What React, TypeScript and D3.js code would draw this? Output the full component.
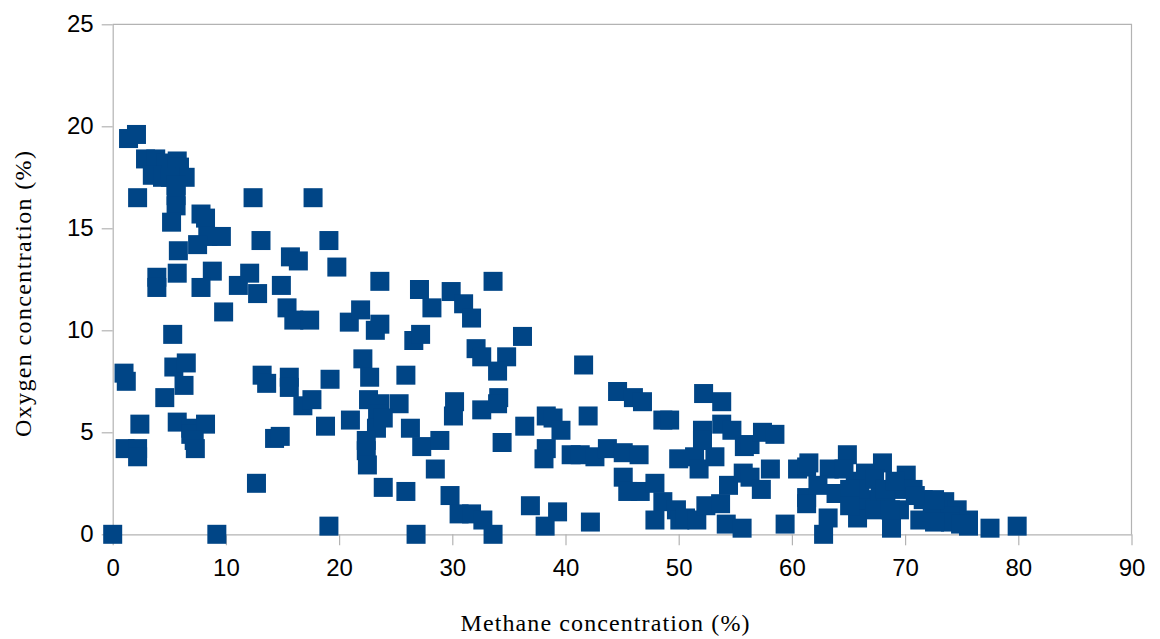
import React, { useRef, useEffect } from "react";
import * as d3 from "d3";

// methane (%) and oxygen (%), same order
const methane = [
  0, 1.0, 1.2, 1.1, 2.2, 2.2, 2.4, 2.2, 1.4, 2.1, 2.9, 3.8, 4.7, 5.7, 5.9, 6.4, 3.5, 4.4, 5.1, 5.6,
  5.6, 5.6, 5.2, 7.8, 8.2, 9.6, 8.4, 7.5, 5.8, 3.9, 3.9, 5.7, 8.8, 7.8, 9.8, 5.3, 5.4, 6.5, 6.3, 4.6,
  5.7, 6.9, 6.9, 8.2, 7.2, 7.3, 9.2, 11.1, 12.1, 12.8, 12.4, 13.1, 13.2, 13.6, 12.7, 14.3, 14.8, 14.9, 15.4, 15.7,
  16.4, 15.6, 15.6, 16.0, 17.4, 16.8, 17.6, 17.7, 19.1, 19.2, 18.8, 19.1, 19.8, 20.9, 21.9, 21.0, 22.1, 22.7, 22.6, 23.6,
  25.3, 23.4, 23.3, 23.9, 22.4, 22.4, 22.5, 23.6, 23.6, 23.2, 23.9, 25.9, 25.9, 26.3, 26.6, 27.2, 27.1, 27.3, 28.9, 28.5,
  28.2, 26.8, 29.9, 31.0, 31.7, 30.2, 30.1, 29.8, 30.6, 31.7, 32.7, 33.6, 33.6, 32.1, 32.6, 34.8, 34.0, 34.1, 34.0, 32.6,
  34.4, 36.2, 36.4, 36.9, 38.3, 38.9, 39.6, 38.3, 38.1, 38.2, 39.3, 40.5, 41.3, 41.6, 42.0, 42.2, 42.6, 43.7, 44.6, 46.0,
  46.8, 45.1, 46.5, 45.1, 45.5, 46.6, 47.9, 48.6, 47.9, 48.6, 49.2, 50.0, 49.8, 50.1, 50.6, 51.4, 51.8, 51.6, 52.4, 53.7,
  53.2, 52.2, 53.8, 52.1, 52.1, 53.8, 54.7, 55.8, 56.3, 57.4, 58.5, 54.2, 55.6, 54.4, 55.7, 56.3, 57.3, 58.1, 59.4, 60.5,
  61.3, 61.3, 61.3, 61.5, 63.3, 64.9, 68.0, 70.1, 63.9, 63.2, 62.8, 65.6, 65.8, 66.9, 67.8, 66.5, 68.8, 70.7, 71.6, 73.5,
  71.3, 73.1, 74.6, 75.6, 75.6, 77.5, 79.9, 69.5, 72.4, 74.0, 69.1, 64.6, 65.8, 62.3, 68.3,
  66.0, 67.3, 68.2, 67.3, 68.7, 69.1, 70.9, 72.6, 74.0, 72.6, 74.9, 65.1, 65.1,
];
const oxygen = [
  0, 7.9, 7.5, 4.2, 4.2, 3.8, 5.4, 16.5, 19.4, 19.6, 18.4, 18.4, 18.2, 18.3, 18.0, 17.5, 17.6, 17.5, 17.5, 17.1,
  16.6, 16.1, 15.3, 15.7, 15.5, 14.6, 14.6, 14.2, 13.9, 12.6, 12.1, 12.8, 12.9, 12.1, 10.9, 9.8, 8.2, 8.4, 7.3, 6.7,
  5.5, 5.2, 4.9, 5.4, 4.6, 4.2, 0, 12.2, 12.8, 11.8, 16.5, 14.4, 7.8, 7.4, 2.5, 4.7, 4.8, 12.2, 11.1, 13.6,
  13.4, 7.7, 7.2, 10.5, 10.5, 6.3, 6.6, 16.5, 14.4, 7.6, 5.3, 0.4, 13.1, 10.4, 11.0, 5.6, 8.6, 7.7, 6.6, 6.4,
  6.4, 5.9, 5.2, 5.7, 4.6, 4.1, 3.4, 12.4, 10.3, 10.0, 2.3, 7.8, 2.1, 5.2, 9.5, 9.8, 12.0, 4.3, 4.6, 3.2,
  11.1, 0, 11.9, 11.3, 10.6, 6.5, 5.8, 1.9, 1.0, 1.0, 0.7, 0, 12.4, 9.1, 8.7, 8.7, 8.0, 6.7, 6.4, 6.1,
  4.5, 9.7, 5.3, 1.4, 5.8, 5.7, 5.1, 4.2, 3.7, 0.4, 1.1, 3.9, 3.9, 8.3, 5.8, 0.6, 3.8, 4.2, 7.0, 6.7,
  6.5, 4.0, 3.9, 2.8, 2.1, 2.1, 2.5, 1.6, 0.7, 5.6, 5.6, 3.7, 1.2, 0.7, 0.8, 3.8, 3.2, 0.7, 1.4, 1.5,
  3.8, 6.9, 6.5, 5.1, 4.6, 5.4, 5.1, 4.3, 4.4, 5.0, 4.9, 0.5, 0.3, 2.4, 3.0, 2.8, 2.2, 3.2, 0.5, 3.2,
  3.3, 1.8, 1.5, 3.5, 3.2, 3.9, 3.5, 2.9, 2.0, 0.8, 0, 2.6, 0.8, 1.7, 1.9, 3.0, 0.3, 2.2, 1.7, 1.6,
  0.7, 0.7, 1.2, 0.7, 0.4, 0.3, 0.4, 1.2, 1.1, 0.9, 2.2, 3.2, 1.7, 2.4, 1.6,
  2.2, 2.7, 2.2, 1.2, 1.2, 2.6, 1.9, 1.7, 0.6, 0.6, 0.5, 2.2, 1.4,
];
const xTicks = [0, 10, 20, 30, 40, 50, 60, 70, 80, 90];
const yTicks = [0, 5, 10, 15, 20, 25];

const W = 1160;
const H = 639;

const App = () => {
  const svgRef = useRef<SVGSVGElement>(null);

  useEffect(() => {
    const svg = d3.select(svgRef.current);
    svg.selectAll("*").remove();

    const x = d3.scaleLinear().domain([0, 90]).range([112.7, 1131.5]);
    const y = d3.scaleLinear().domain([0, 25]).range([534.3, 24.3]);
    const axisColor = "#b3b3b3";

    // plot frame (top and right)
    svg
      .append("path")
      .attr("d", `M${x(0)},${y(25)}H${x(90)}V${y(0)}`)
      .attr("fill", "none")
      .attr("stroke", axisColor)
      .attr("stroke-width", 1.2);

    // y axis
    const yAxis = svg
      .append("g")
      .attr("transform", `translate(${x(0)},0)`)
      .call(d3.axisLeft(y).tickValues(yTicks).tickSize(11).tickSizeOuter(0).tickPadding(8));
    yAxis.select(".domain").attr("stroke", axisColor).attr("stroke-width", 1.2);
    yAxis.selectAll(".tick line").attr("stroke", axisColor).attr("stroke-width", 1.2);
    yAxis
      .selectAll(".tick text")
      .attr("font-family", "Liberation Sans, Arial, sans-serif")
      .attr("font-size", 24)
      .attr("fill", "#000");

    // x axis
    const xAxis = svg
      .append("g")
      .attr("transform", `translate(0,${y(0)})`)
      .call(d3.axisBottom(x).tickValues(xTicks).tickSize(11).tickSizeOuter(0).tickPadding(14));
    xAxis.select(".domain").attr("stroke", axisColor).attr("stroke-width", 1.2);
    xAxis.selectAll(".tick line").attr("stroke", axisColor).attr("stroke-width", 1.2);
    xAxis
      .selectAll(".tick text")
      .attr("font-family", "Liberation Sans, Arial, sans-serif")
      .attr("font-size", 24)
      .attr("fill", "#000");

    // markers
    const size = 19;
    svg
      .append("g")
      .selectAll("rect")
      .data(methane.map((m, i) => ({ m, o: oxygen[i] })))
      .join("rect")
      .attr("x", (d) => x(d.m) - size / 2)
      .attr("y", (d) => y(d.o) - size / 2)
      .attr("width", size)
      .attr("height", size)
      .attr("fill", "#004586");

    // axis titles
    svg
      .append("text")
      .attr("x", 605)
      .attr("y", 631)
      .attr("text-anchor", "middle")
      .attr("font-family", "Liberation Serif, serif")
      .attr("font-size", 24)
      .attr("textLength", 289)
      .attr("lengthAdjust", "spacing")
      .text("Methane concentration (%)");

    svg
      .append("text")
      .attr("transform", "translate(31,294) rotate(-90)")
      .attr("text-anchor", "middle")
      .attr("font-family", "Liberation Serif, serif")
      .attr("font-size", 24)
      .attr("textLength", 286)
      .attr("lengthAdjust", "spacing")
      .text("Oxygen concentration (%)");
  }, []);

  return (
    <svg
      ref={svgRef}
      width={W}
      height={H}
      style={{ position: "absolute", left: 0, top: 0, background: "#fff" }}
    />
  );
};

export default App;
